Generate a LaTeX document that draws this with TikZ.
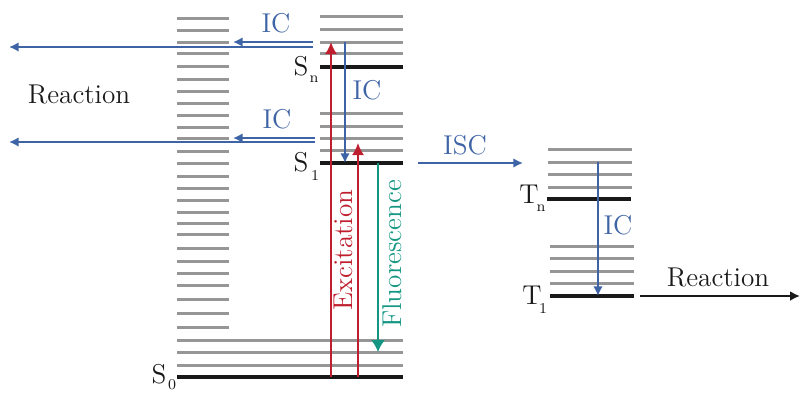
\documentclass[tikz,border=0pt]{standalone}
\usetikzlibrary{arrows.meta}
\definecolor{lvgray}{RGB}{150,150,150}
\definecolor{lvblack}{RGB}{25,25,25}
\definecolor{icblue}{RGB}{62,100,165}
\definecolor{exred}{RGB}{190,30,45}
\definecolor{flteal}{RGB}{20,150,130}
\begin{document}
\begin{tikzpicture}[x=0.5pt,y=-0.5pt,
  vib/.style={draw=lvgray,line width=1.5pt},
  elec/.style={draw=lvblack,line width=1.8pt},
  bluearr/.style={draw=icblue,line width=1.2pt,-{Latex[length=4.8pt,width=4.8pt]}},
  redarr/.style={draw=exred,line width=1pt,-{Latex[length=6pt,width=6pt]}},
  tealarr/.style={draw=flteal,line width=0.9pt,-{Latex[length=6pt,width=7pt]}},
  blackarr/.style={draw=lvblack,line width=1.1pt,-{Latex[length=5pt,width=5pt]}},
  lbl/.style={font=\fontsize{13.6}{16}\selectfont, inner sep=0pt},
  sublbl/.style={font=\fontsize{7.5}{9}\selectfont, inner sep=0pt}]
\useasboundingbox (0,0) rectangle (800,392);

% left vibrational ladder
\foreach \y in {18,30,42,53,66,79,91,103,115,127,138,151,163,176,188,200,212,223,234,248,261,273,285,299,313,327}
  \draw[vib] (177,\y) -- (229,\y);

% S_n manifold
\foreach \y in {16,29,42,53} \draw[vib] (320,\y) -- (403,\y);
\draw[elec] (320,67) -- (403,67);
% S_1 manifold
\foreach \y in {113,126,138,150} \draw[vib] (320,\y) -- (403,\y);
\draw[elec] (320,163) -- (403,163);
% S_0 manifold
\foreach \y in {340,352,365} \draw[vib] (177,\y) -- (403,\y);
\draw[elec] (177,377) -- (403,377);

% T_n manifold
\foreach \y in {149,162,174,187} \draw[vib] (548,\y) -- (632,\y);
\draw[elec] (547,199) -- (631,199);
% T_1 manifold
\foreach \y in {246,258,271,283} \draw[vib] (550,\y) -- (634,\y);
\draw[elec] (550,296) -- (634,296);

% coordinates for connectors
\coordinate (icTopA) at (313,42);
\coordinate (icTopB) at (233,42);
\coordinate (rxTopA) at (313,47);
\coordinate (rxTopB) at (9,47);
\coordinate (icLowA) at (315,138);
\coordinate (icLowB) at (233,138);
\coordinate (rxLowA) at (315,142);
\coordinate (rxLowB) at (9,142);
\coordinate (icSA) at (345,42);
\coordinate (icSB) at (345,163);
\coordinate (exAa) at (331,377);
\coordinate (exAb) at (331,42);
\coordinate (exBa) at (358,377);
\coordinate (exBb) at (358,143);
\coordinate (flA) at (378,163);
\coordinate (flB) at (378,352);
\coordinate (iscA) at (418,163);
\coordinate (iscB) at (523,163);
\coordinate (icTA) at (598,162);
\coordinate (icTB) at (598,296);
\coordinate (rxTA) at (640,296);
\coordinate (rxTB) at (800,296);

\draw[bluearr] (icTopA) -- (icTopB);
\draw[bluearr] (rxTopA) -- (rxTopB);
\draw[bluearr] (icLowA) -- (icLowB);
\draw[bluearr] (rxLowA) -- (rxLowB);
\draw[bluearr] (icSA) -- (icSB);
\draw[redarr] (exAa) -- (exAb);
\draw[redarr] (exBa) -- (exBb);
\draw[tealarr] (flA) -- (flB);
\draw[bluearr] (iscA) -- (iscB);
\draw[bluearr] (icTA) -- (icTB);
\draw[blackarr] (rxTA) -- (rxTB);

% labels
\node[lbl,text=icblue] (lIC1) at (276,23) {IC};
\node[lbl,text=icblue] (lIC2) at (367,90) {IC};
\node[lbl,text=icblue] (lIC3) at (277,119) {IC};
\node[lbl,text=icblue] (lISC) at (465,145) {ISC};
\node[lbl,text=icblue] (lIC4) at (618,225) {IC};
\node[lbl,text=lvblack] (lRx1) at (79,94) {Reaction};
\node[lbl,text=lvblack] (lRx2) at (718,277) {Reaction};
\node[lbl,text=exred,rotate=90] (lEx) at (343,250) {Excitation};
\node[lbl,text=flteal,rotate=90] (lFl) at (392,254) {Fluorescence};

% state labels
\node[lbl,text=lvblack] (Sn) at (301,66) {S};
\node[sublbl,text=lvblack] (Snsub) at (314,79) {n};
\node[lbl,text=lvblack] (S1) at (301,162) {S};
\node[sublbl,text=lvblack] (S1sub) at (315,176) {1};
\node[lbl,text=lvblack] (S0) at (159,374) {S};
\node[sublbl,text=lvblack] (S0sub) at (172,385) {0};
\node[lbl,text=lvblack] (Tn) at (529,194) {T};
\node[sublbl,text=lvblack] (Tnsub) at (541,208) {n};
\node[lbl,text=lvblack] (T1) at (532,295) {T};
\node[sublbl,text=lvblack] (T1sub) at (543,309) {1};
\end{tikzpicture}
\end{document}
